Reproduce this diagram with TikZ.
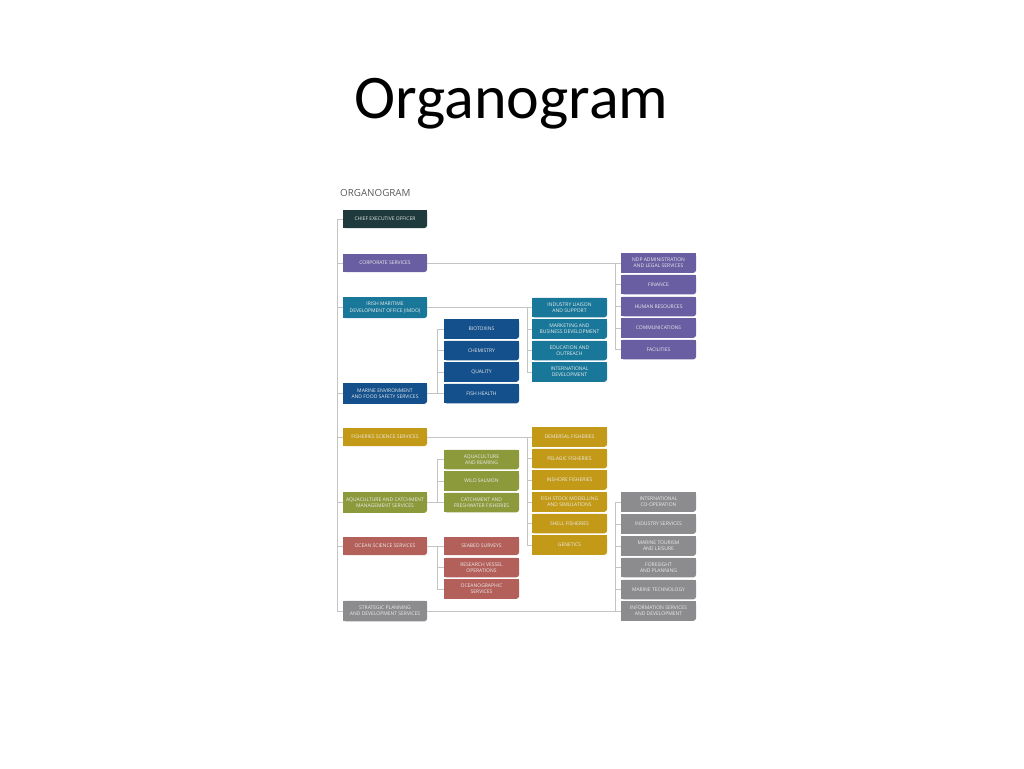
\documentclass[tikz,border=0pt]{standalone}
\usepackage{fontspec}
\newfontfamily\titlef{Carlito}
\newfontfamily\bxf{Open Sans}
\definecolor{cceo}{HTML}{1E3A3C}
\definecolor{cpur}{HTML}{6A5EA2}
\definecolor{cteal}{HTML}{19789A}
\definecolor{cblue}{HTML}{13508C}
\definecolor{cmus}{HTML}{C39A17}
\definecolor{coli}{HTML}{8D9A3C}
\definecolor{cred}{HTML}{B4605A}
\definecolor{cgray}{HTML}{8C8C8E}
\definecolor{cline}{HTML}{C4C4C4}
\tikzset{
  ob/.style={inner sep=0pt, text=white!92!black, font={\bxf\fontsize{5}{6.2}\selectfont}, align=center,
    minimum height=19.5pt,
    path picture={
      \fill[#1,rounded corners=2.5pt] (path picture bounding box.south west) rectangle (path picture bounding box.north east);
      \fill[#1] (path picture bounding box.south west) rectangle ([xshift=-3pt]path picture bounding box.north east);
      \fill[#1] (path picture bounding box.west) rectangle (path picture bounding box.north east);
    }},
  lb/.style={ob=#1, minimum width=84pt},
  cb/.style={ob=#1, minimum width=75pt},
  conn/.style={draw=cline, line width=0.8pt},
}
\begin{document}
\begin{tikzpicture}[x=1pt,y=-1pt]
\useasboundingbox (0,0) rectangle (1024,768);
\node[anchor=base, font={\titlef\fontsize{62}{62}\selectfont}] (title) at (511.5,118) {Organogram};
\node[anchor=base west, inner sep=0pt, text=black!65, font={\bxf\fontsize{9.8}{12}\selectfont}] (sub) at (340,196) {ORGANOGRAM};
% left column
\node[lb=cceo, minimum height=18pt] (ceo) at (385,219) {CHIEF EXECUTIVE OFFICER};
\node[lb=cpur, minimum height=18pt] (corp) at (385,263) {CORPORATE SERVICES};
\node[lb=cteal, minimum height=21pt] (imdo) at (385,307.5) {IRISH MARITIME\\DEVELOPMENT OFFICE (IMDO)};
\node[lb=cblue, minimum height=20.5pt] (mefs) at (385,393.5) {MARINE ENVIRONMENT\\AND FOOD SAFETY SERVICES};
\node[lb=cmus, minimum height=18pt] (fss) at (385,437) {FISHERIES SCIENCE SERVICES};
\node[lb=coli, minimum height=20.5pt] (acms) at (385,502.5) {AQUACULTURE AND CATCHMENT\\MANAGEMENT SERVICES};
\node[lb=cred, minimum height=18pt] (oss) at (385,546) {OCEAN SCIENCE SERVICES};
\node[lb=cgray, minimum height=20.5pt] (spds) at (385,611) {STRATEGIC PLANNING\\AND DEVELOPMENT SERVICES};
% second column
\node[cb=cblue] (biotox) at (481.5,329) {BIOTOXINS};
\node[cb=cblue] (chem) at (481.5,350.5) {CHEMISTRY};
\node[cb=cblue] (qual) at (481.5,372) {QUALITY};
\node[cb=cblue] (fishh) at (481.5,393.5) {FISH HEALTH};
\node[cb=coli] (aquar) at (481.5,459.5) {AQUACULTURE\\AND REARING};
\node[cb=coli] (wild) at (481.5,481) {WILD SALMON};
\node[cb=coli] (catch) at (481.5,502.5) {CATCHMENT AND\\FRESHWATER FISHERIES};
\node[cb=cred, minimum height=18pt] (seabed) at (481.5,546) {SEABED SURVEYS};
\node[cb=cred] (rvo) at (481.5,567.5) {RESEARCH VESSEL\\OPERATIONS};
\node[cb=cred] (ocean) at (481.5,589) {OCEANOGRAPHIC\\SERVICES};
% third column
\node[cb=cteal] (ils) at (569.5,307.5) {INDUSTRY LIAISON\\AND SUPPORT};
\node[cb=cteal] (mbd) at (569.5,329) {MARKETING AND\\BUSINESS DEVELOPMENT};
\node[cb=cteal] (eo) at (569.5,350.5) {EDUCATION AND\\OUTREACH};
\node[cb=cteal] (intdev) at (569.5,372) {INTERNATIONAL\\DEVELOPMENT};
\node[cb=cmus] (dem) at (569.5,437) {DEMERSAL FISHERIES};
\node[cb=cmus] (pel) at (569.5,458.5) {PELAGIC FISHERIES};
\node[cb=cmus] (insh) at (569.5,480) {INSHORE FISHERIES};
\node[cb=cmus] (fsms) at (569.5,502) {FISH STOCK MODELLING\\AND SIMULATIONS};
\node[cb=cmus] (shell) at (569.5,523.5) {SHELL FISHERIES};
\node[cb=cmus] (gen) at (569.5,545) {GENETICS};
% fourth column
\node[cb=cpur] (ndp) at (658.5,263) {NDP ADMINISTRATION\\AND LEGAL SERVICES};
\node[cb=cpur] (fin) at (658.5,284.5) {FINANCE};
\node[cb=cpur] (hr) at (658.5,306.5) {HUMAN RESOURCES};
\node[cb=cpur] (comm) at (658.5,328) {COMMUNICATIONS};
\node[cb=cpur] (fac) at (658.5,349.5) {FACILITIES};
\node[cb=cgray] (intco) at (658.5,502) {INTERNATIONAL\\CO-OPERATION};
\node[cb=cgray] (indserv) at (658.5,524) {INDUSTRY SERVICES};
\node[cb=cgray] (mtl) at (658.5,546) {MARINE TOURISM\\AND LEISURE};
\node[cb=cgray] (fp) at (658.5,567.5) {FORESIGHT\\AND PLANNING};
\node[cb=cgray] (mt) at (658.5,589.5) {MARINE TECHNOLOGY};
\node[cb=cgray] (isd) at (658.5,611) {INFORMATION SERVICES\\AND DEVELOPMENT};
% connector columns
\coordinate (sp) at (337,0);
\coordinate (v2) at (437,0);
\coordinate (v3) at (527,0);
\coordinate (v4) at (615,0);
% spine
\draw[conn] (ceo.west) -- (ceo.west -| sp) |- (spds.west);
\foreach \n in {corp,imdo,mefs,fss,acms,oss} \draw[conn] (\n.west) -- (\n.west -| sp);
% corporate -> purple
\draw[conn] (corp.east) -- (ndp.west);
\draw[conn] (ndp.west -| v4) -- (fac.west -| v4);
\foreach \n in {fin,hr,comm,fac} \draw[conn] (\n.west) -- (\n.west -| v4);
% imdo -> teal
\draw[conn] (imdo.east) -- (ils.west);
\draw[conn] (ils.west -| v3) -- (intdev.west -| v3);
\foreach \n in {mbd,eo,intdev} \draw[conn] (\n.west) -- (\n.west -| v3);
% marine env -> blue
\draw[conn] (mefs.east) -- (fishh.west);
\draw[conn] (biotox.west -| v2) -- (fishh.west -| v2);
\foreach \n in {biotox,chem,qual} \draw[conn] (\n.west) -- (\n.west -| v2);
% fisheries -> mustard
\draw[conn] (fss.east) -- (dem.west);
\draw[conn] (dem.west -| v3) -- (gen.west -| v3);
\foreach \n in {pel,insh,fsms,shell,gen} \draw[conn] (\n.west) -- (\n.west -| v3);
% aquaculture -> olive
\draw[conn] (acms.east) -- (catch.west);
\draw[conn] (aquar.west -| v2) -- (catch.west -| v2);
\foreach \n in {aquar,wild} \draw[conn] (\n.west) -- (\n.west -| v2);
% ocean -> red
\draw[conn] (oss.east) -- (seabed.west);
\draw[conn] (seabed.west -| v2) -- (ocean.west -| v2);
\foreach \n in {rvo,ocean} \draw[conn] (\n.west) -- (\n.west -| v2);
% strategic -> gray
\draw[conn] (spds.east) -- (isd.west);
\draw[conn] (intco.west -| v4) -- (isd.west -| v4);
\foreach \n in {intco,indserv,mtl,fp,mt} \draw[conn] (\n.west) -- (\n.west -| v4);
\end{tikzpicture}
\end{document}
